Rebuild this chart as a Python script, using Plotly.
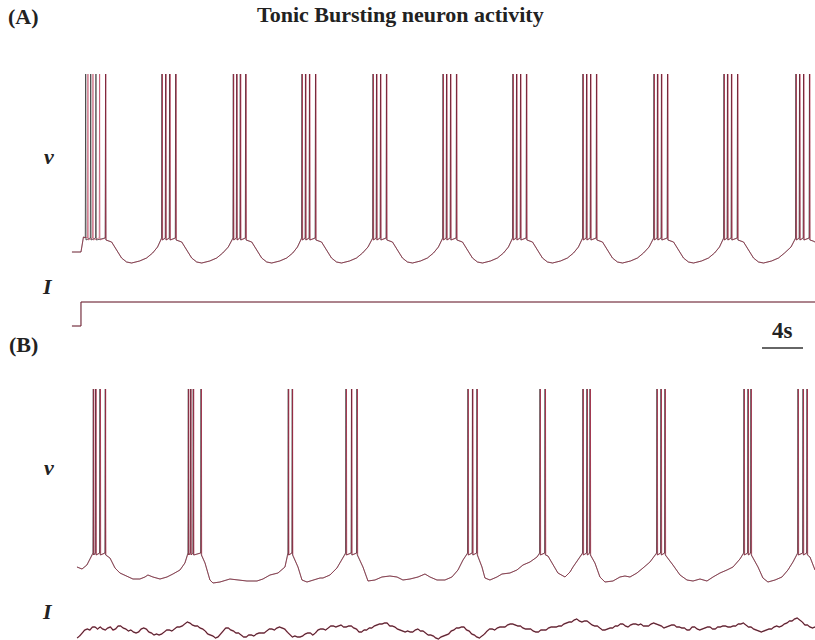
import numpy as np
import plotly.graph_objects as go

# ---------------- data (time in s, voltage in mV, current in arbitrary units) ----------------
# Panel A: tonic bursting under a step current
A_spikes_black = [1.34, 1.83, 2.34, 3.28,
                  8.78, 9.14, 9.53, 10.12,
                  15.74, 16.07, 16.42, 16.95,
                  22.44, 22.78, 23.17, 23.76,
                  29.37, 29.71, 30.10, 30.68,
                  36.20, 36.54, 36.93, 37.51,
                  43.02, 43.37, 43.76, 44.34,
                  49.85, 50.20, 50.59, 51.17,
                  56.78, 57.12, 57.51, 58.10,
                  63.61, 63.95, 64.34, 64.93,
                  70.63, 70.98, 71.37, 71.95]
A_spikes_red = [1.56, 2.05, 2.70, 3.30,
                8.82, 9.18, 9.58, 10.16,
                15.78, 16.11, 16.47, 16.99,
                22.48, 22.83, 23.21, 23.80,
                29.41, 29.76, 30.14, 30.72,
                36.24, 36.59, 36.97, 37.55,
                43.06, 43.42, 43.80, 44.38,
                49.89, 50.25, 50.63, 51.21,
                56.82, 57.17, 57.55, 58.14,
                63.65, 64.00, 64.38, 64.97,
                70.67, 71.03, 71.41, 71.99]
A_sub_t = [0.0, 0.88, 1.12,
           3.87, 4.35, 4.84, 5.33, 5.82, 6.60, 7.28, 7.87, 8.35,
           10.71, 11.19, 11.68, 12.17, 12.66, 13.44, 14.12, 14.71, 15.25,
           17.54, 18.02, 18.51, 19.00, 19.49, 20.27, 20.95, 21.54, 22.00,
           24.35, 24.83, 25.32, 25.81, 26.30, 27.08, 27.76, 28.35, 28.88,
           31.27, 31.75, 32.24, 32.73, 33.22, 34.00, 34.68, 35.27, 35.75,
           38.10, 38.58, 39.07, 39.56, 40.05, 40.83, 41.51, 42.10, 42.58,
           44.93, 45.41, 45.90, 46.39, 46.88, 47.66, 48.34, 48.93, 49.41,
           51.76, 52.24, 52.73, 53.22, 53.71, 54.49, 55.17, 55.76, 56.30,
           58.69, 59.17, 59.66, 60.15, 60.64, 61.42, 62.10, 62.69, 63.17,
           65.52, 66.00, 66.49, 66.98, 67.47, 68.25, 68.93, 69.52, 70.15,
           72.30, 72.49]
A_sub_v = [-65, -65, -57.5,
           -60, -64, -68, -70, -70.5, -69.5, -68, -65.5, -62.5,
           -60, -64, -68, -70, -70.5, -69.5, -68, -65.5, -62.5,
           -60, -64, -68, -70, -70.5, -69.5, -68, -65.5, -62.5,
           -60, -64, -68, -70, -70.5, -69.5, -68, -65.5, -62.5,
           -60, -64, -68, -70, -70.5, -69.5, -68, -65.5, -62.5,
           -60, -64, -68, -70, -70.5, -69.5, -68, -65.5, -62.5,
           -60, -64, -68, -70, -70.5, -69.5, -68, -65.5, -62.5,
           -60, -64, -68, -70, -70.5, -69.5, -68, -65.5, -62.5,
           -60, -64, -68, -70, -70.5, -69.5, -68, -65.5, -62.5,
           -60, -64, -68, -70, -70.5, -69.5, -68, -65.5, -62.5,
           -59.5, -60]
A_current_t = [0.0, 0.88, 0.88, 72.49]
A_current = [0, 0, 12, 12]

# Panel B: bursting under a noisy current
B_spikes_black = [2.08, 2.31, 2.73, 3.25, 11.35, 11.58, 11.83, 12.59, 21.10, 21.49,
                  26.73, 27.27, 27.80, 38.63, 39.07, 39.51, 45.66, 46.15, 49.85, 50.24,
                  50.54, 57.07, 57.46, 57.85, 65.56, 65.95, 66.24, 70.83, 71.32, 71.71]
B_spikes_red = [2.13, 2.36, 2.78, 3.29, 11.40, 11.62, 11.88, 12.63, 21.15, 21.53,
                26.78, 27.31, 27.85, 38.67, 39.12, 39.55, 45.70, 46.20, 49.89, 50.29,
                50.58, 57.11, 57.51, 57.89, 65.60, 66.00, 66.28, 70.87, 71.37, 71.75]
B_sub_t = [0.49, 0.98, 1.46, 1.95,
           3.71, 4.20, 4.68, 5.37, 5.95, 6.63, 7.12, 7.41, 7.90, 8.59, 9.27, 9.85, 10.54, 11.02,
           12.98, 13.46, 13.76, 14.44, 15.41, 16.10, 17.07, 18.05, 18.63, 19.32, 20.10, 20.78,
           22.05, 22.44, 22.93, 23.22, 23.51, 24.20, 24.49, 25.17, 25.85, 26.34,
           28.39, 28.88, 29.56, 30.24, 31.02, 31.71, 32.29, 32.98, 33.76, 34.44, 34.93, 35.61,
           36.39, 37.07, 37.66, 38.15,
           40.00, 40.29, 40.78, 41.46, 41.95, 42.73, 43.41, 44.00, 44.68, 45.37,
           46.44, 46.93, 47.41, 48.10, 48.59, 48.88, 49.56,
           51.02, 51.51, 52.00, 52.78, 53.46, 53.95, 54.44, 55.12, 55.71, 56.39,
           58.63, 59.32, 60.00, 60.59, 61.27, 61.95, 62.54, 63.22, 63.90, 64.49, 65.17,
           66.93, 67.41, 67.90, 68.59, 69.27, 69.85, 70.34,
           72.00, 72.49]
B_sub_v = [-65, -66, -64, -59,
           -60.5, -65.5, -68, -69.5, -71, -71, -70, -69, -70, -71, -70, -68.5, -66.5, -63,
           -63, -71.5, -73, -72.5, -71, -71.5, -72, -72, -71, -69, -68, -65,
           -65, -71.5, -72.5, -72, -71.5, -70.5, -70.5, -69, -65.5, -61.5,
           -65, -72, -71.5, -70, -69.5, -70, -71.5, -71, -70, -68.5, -70, -71.5,
           -71.5, -70, -66.5, -61.5,
           -65, -70.5, -71.5, -70, -68.5, -68, -66.5, -64, -62.5, -60,
           -59.5, -64, -68, -70, -67.5, -65, -60,
           -63, -70, -72.5, -72, -70, -69.5, -70, -68, -65.5, -62.5,
           -64, -69, -71.5, -72, -71, -72, -70, -68, -66.5, -65, -61,
           -65, -70.5, -72.5, -71.5, -70, -66.5, -62.5,
           -60, -66.5]
# noisy current, sampled every 0.5 s from 0.5 s ...
B_current = [1.0, 3.5, 5.5, 6.5, 5.5, 5.5, 6.0, 5.0, 7.0, 6.0,
             4.5, 4.0, 4.0, 6.0, 4.0, 2.5, 2.5, 4.0, 5.0, 5.5,
             6.5, 8.0, 8.5, 7.0, 6.0, 4.5, 2.5, 1.0, 3.0, 6.0,
             5.0, 3.5, 2.5, 1.5, 2.5, 3.0, 3.5, 4.5, 5.5, 6.0,
             6.0, 4.0, 1.5, 1.5, 2.0, 3.5, 2.5, 5.0, 5.5, 6.0,
             7.0, 7.0, 6.5, 7.0, 6.0, 4.0, 5.0, 6.0, 7.0, 8.0,
             8.5, 7.0, 6.5, 5.0, 4.0, 4.0, 5.0, 4.5, 3.5, 2.5,
             1.0, 1.5, 2.5, 4.5, 6.0, 6.5, 5.0, 3.0, 1.5, 2.0,
             4.5, 5.5, 6.0, 6.5, 7.5, 8.0, 7.0, 6.0, 5.5, 4.5,
             4.0, 5.0, 6.0, 6.5, 7.0, 8.0, 9.0, 10.0, 9.5, 9.5,
             8.5, 7.0, 6.0, 5.0, 6.0, 7.0, 8.0, 7.0, 7.5, 8.0,
             8.0, 7.0, 8.0, 8.0, 7.0, 6.5, 7.5, 6.5, 6.0, 5.0,
             6.5, 5.5, 5.5, 6.5, 5.5, 6.5, 7.0, 6.5, 7.0, 8.0,
             8.5, 6.5, 5.5, 4.5, 4.5, 5.5, 6.5, 6.5, 8.0, 9.5,
             10.5, 10.0, 7.5, 6.5, 6.5]
# ... and the readings taken half-way between those samples (0.75 s, 1.25 s, ...)
B_current_mid = [2.0, 5.0, 5.0, 6.5, 6.5, 5.0, 6.5, 5.5, 7.0, 5.5,
                 5.0, 3.5, 5.5, 5.5, 3.5, 3.0, 3.0, 5.0, 4.5, 6.5,
                 7.0, 9.0, 7.5, 7.0, 5.5, 3.0, 2.0, 1.5, 4.5, 6.0,
                 4.5, 3.5, 1.5, 2.5, 2.0, 3.5, 3.5, 5.5, 5.0, 6.5,
                 5.5, 2.5, 2.0, 1.5, 3.0, 3.5, 3.5, 5.5, 5.0, 7.0,
                 6.5, 7.5, 6.5, 7.0, 5.5, 4.0, 5.0, 6.0, 7.5, 8.0,
                 8.5, 7.0, 5.5, 4.5, 4.5, 4.0, 5.5, 4.5, 2.5, 2.0,
                 0.5, 2.0, 3.0, 5.0, 6.0, 6.5, 4.5, 2.5, 1.0, 3.0,
                 5.5, 5.0, 6.5, 6.5, 8.0, 7.5, 7.0, 5.5, 5.5, 4.0,
                 5.0, 5.0, 6.5, 6.5, 7.0, 8.5, 9.0, 10.5, 9.0, 9.5,
                 7.5, 7.0, 5.0, 5.5, 6.0, 7.0, 8.0, 6.5, 8.0, 7.5,
                 7.0, 7.0, 8.5, 7.5, 6.0, 7.0, 7.5, 6.5, 6.0, 5.0,
                 6.5, 5.0, 6.0, 6.5, 5.5, 6.5, 7.0, 6.5, 7.0, 8.0,
                 7.5, 6.5, 5.0, 4.0, 5.0, 5.5, 7.0, 7.0, 8.5, 9.5,
                 11.0, 9.0, 7.5, 6.0]
B_current_t0 = 0.5   # first noise sample (s)
B_current_dt = 0.5   # sampling step (s)

V_PEAK = 24.0
V_THRESH = -58.0
V_RESET = -59.0
SCALE_BAR_START = 67.32
SCALE_BAR_LEN = 4.0


def build_voltage(sub_t, sub_v, spikes):
    pts = list(zip(sub_t, sub_v))
    for ts in spikes:
        pts += [(ts - 0.04, V_THRESH), (ts, V_PEAK), (ts + 0.03, V_RESET)]
    pts.sort(key=lambda p: p[0])
    t, v = zip(*pts)
    return list(t), list(v)


BLACK = "rgba(35,35,35,0.75)"
RED = "rgba(175,25,60,0.55)"
FONT = "Liberation Serif, Times New Roman, serif"

fig = go.Figure()


def add_pair(tb, vb, tr, vr, yaxis, wb=0.9, wr=0.9):
    fig.add_trace(go.Scatter(x=tb, y=vb, mode="lines", line=dict(color=BLACK, width=wb),
                             yaxis=yaxis, showlegend=False, hoverinfo="skip"))
    fig.add_trace(go.Scatter(x=tr, y=vr, mode="lines", line=dict(color=RED, width=wr),
                             yaxis=yaxis, showlegend=False, hoverinfo="skip"))


tA_b, vA_b = build_voltage(A_sub_t, A_sub_v, A_spikes_black)
tA_r, vA_r = build_voltage(A_sub_t, A_sub_v, A_spikes_red)
add_pair(tA_b, vA_b, tA_r, vA_r, "y")
add_pair(A_current_t, A_current, A_current_t, A_current, "y2", 1.0, 1.0)

tB_b, vB_b = build_voltage(B_sub_t, B_sub_v, B_spikes_black)
tB_r, vB_r = build_voltage(B_sub_t, B_sub_v, B_spikes_red)
add_pair(tB_b, vB_b, tB_r, vB_r, "y3")

n_mid = len(B_current_mid)
tI = np.empty(len(B_current) + n_mid)
yI = np.empty(len(B_current) + n_mid)
tI[0::2] = B_current_t0 + B_current_dt * np.arange(len(B_current))
yI[0::2] = B_current
tI[1::2] = B_current_t0 + B_current_dt * (np.arange(n_mid) + 0.5)
yI[1::2] = B_current_mid
fig.add_trace(go.Scatter(x=tI, y=yI, mode="lines", line=dict(color="rgba(175,25,60,0.7)", width=1.5),
                         yaxis="y4", showlegend=False, hoverinfo="skip"))
fig.add_trace(go.Scatter(x=tI, y=yI, mode="lines", line=dict(color="#1e1e1e", width=0.8),
                         yaxis="y4", showlegend=False, hoverinfo="skip"))

hidden = dict(visible=False, showgrid=False, zeroline=False, fixedrange=True)
fig.update_layout(
    width=815, height=640,
    margin=dict(l=0, r=0, t=0, b=0),
    paper_bgcolor="white", plot_bgcolor="white",
    xaxis=dict(domain=[0, 1], range=[-7.02, 72.49], **hidden),
    yaxis=dict(domain=[0.5625, 0.90625], range=[-79, 31], anchor="x", **hidden),
    yaxis2=dict(domain=[0.46875, 0.55], range=[-7, 19], anchor="x", **hidden),
    yaxis3=dict(domain=[0.0625, 0.421875], range=[-81.5, 33.5], anchor="x", **hidden),
    yaxis4=dict(domain=[0.0, 0.0546875], range=[0, 17.5], anchor="x", **hidden),
)

# 4 s scale bar
fig.add_shape(type="line", xref="x", yref="paper",
              x0=SCALE_BAR_START, x1=SCALE_BAR_START + SCALE_BAR_LEN,
              y0=0.45625, y1=0.45625, line=dict(color="#333333", width=1.5))


def label(text, x, y, size=22):
    fig.add_annotation(text=text, x=x, y=y, xref="paper", yref="paper",
                       showarrow=False, xanchor="center", yanchor="middle",
                       font=dict(family=FONT, size=size, color="#222222"))


label("<b>Tonic Bursting neuron activity</b>", 0.491, 0.977, 22)
label("<b>(A)</b>", 0.029, 0.975, 22)
label("<b>(B)</b>", 0.029, 0.462, 22)
label("<b><i>v</i></b>", 0.060, 0.755, 22)
label("<b><i>v</i></b>", 0.060, 0.270, 22)
label("<b><i>I</i></b>", 0.058, 0.553, 22)
label("<b><i>I</i></b>", 0.058, 0.044, 22)
fig.add_annotation(text="<b>4s</b>", x=SCALE_BAR_START + SCALE_BAR_LEN / 2, y=0.484,
                   xref="x", yref="paper", showarrow=False, xanchor="center", yanchor="middle",
                   font=dict(family=FONT, size=23, color="#222222"))

fig.write_html("out.html", config={"displayModeBar": False},
               post_script="document.body.style.margin='0px';")
